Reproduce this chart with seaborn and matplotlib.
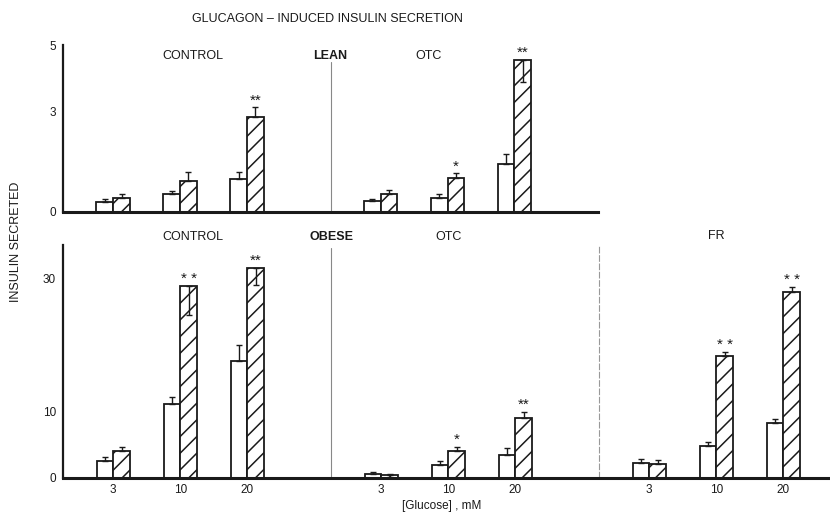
import matplotlib
matplotlib.use("Agg")
import matplotlib.pyplot as plt
import numpy as np
import pandas as pd
import seaborn as sns


GLUCOSE = ["3", "10", "20"]
TREATMENTS = ["basal", "glucagon"]

LEAN_GROUPS = ["CONTROL", "OTC"]
LEAN_BASAL = [0.29, 0.52, 0.98, 0.31, 0.42, 1.44]
LEAN_BASAL_SEM = [0.09, 0.10, 0.21, 0.06, 0.12, 0.29]
LEAN_GLUCAGON = [0.42, 0.93, 2.83, 0.54, 1.00, 4.55]
# negative sem = error bar drawn downwards inside the bar
LEAN_GLUCAGON_SEM = [0.11, 0.26, 0.30, 0.10, 0.15, -0.66]
LEAN_STARS = ["", "", "**", "", "*", "**"]

OBESE_GROUPS = ["CONTROL", "OTC", "FR"]
OBESE_BASAL = [2.56, 11.1, 17.6, 0.55, 2.0, 3.5, 2.3, 4.8, 8.3]
OBESE_BASAL_SEM = [0.55, 1.0, 2.4, 0.3, 0.5, 1.0, 0.56, 0.57, 0.6]
OBESE_GLUCAGON = [4.0, 28.9, 31.6, 0.4, 4.0, 9.0, 2.15, 18.3, 27.9]
OBESE_GLUCAGON_SEM = [0.66, -4.4, -2.6, 0.2, 0.66, 0.9, 0.5, 0.6, 0.8]
OBESE_STARS = ["", "* *", "**", "", "*", "**", "", "* *", "* *"]

INK = "#1a1a1a"


def panel_frame(groups, basal, glucagon):
    rows = []
    for i, group in enumerate(groups):
        for j, glc in enumerate(GLUCOSE):
            k = i * len(GLUCOSE) + j
            pos = i * 4 + j + 0.75
            rows.append({"group": group, "glucose": glc, "pos": pos, "treatment": "basal", "insulin": basal[k]})
            rows.append({"group": group, "glucose": glc, "pos": pos, "treatment": "glucagon", "insulin": glucagon[k]})
    return pd.DataFrame(rows)


def draw_panel(ax, groups, basal, basal_sem, glucagon, glucagon_sem, stars):
    df = panel_frame(groups, basal, glucagon)
    sns.barplot(
        data=df, x="pos", y="insulin", hue="treatment", hue_order=TREATMENTS,
        native_scale=True, width=0.5, palette={"basal": "white", "glucagon": "white"},
        edgecolor=INK, linewidth=1.3, errorbar=None, legend=False, ax=ax,
    )
    for container, sems in zip(ax.containers, [basal_sem, glucagon_sem]):
        patches = sorted(container.patches, key=lambda p: p.get_x())
        xs = np.array([p.get_x() + p.get_width() / 2 for p in patches])
        hs = np.array([p.get_height() for p in patches])
        sems = np.array(sems)
        lo = np.where(sems < 0, -sems, 0)
        hi = np.where(sems > 0, sems, 0)
        ax.errorbar(xs, hs, yerr=[lo, hi], fmt="none", ecolor=INK, elinewidth=1.0, capsize=2, capthick=1.0)
        if container is ax.containers[1]:
            for p in patches:
                p.set_hatch("//")
            for x, h, s, star in zip(xs, hs, sems, stars):
                if star:
                    ax.annotate(star, (x, h + max(s, 0)), xytext=(0, 0), textcoords="offset points",
                                ha="center", va="bottom", fontsize=11, color=INK)


def style_axis(ax, ymax, yticks, ylabels, xmax):
    ax.set_xlim(0, xmax)
    ax.set_ylim(0, ymax)
    ax.set_yticks(yticks)
    ax.set_yticklabels(ylabels)
    ax.tick_params(axis="y", direction="in", length=15, width=1.2, pad=5, labelsize=8.5, colors=INK)
    ax.set_xlabel("")
    ax.set_ylabel("")
    for side in ["top", "right"]:
        ax.spines[side].set_visible(False)
    ax.spines["left"].set_linewidth(1.6)
    ax.spines["bottom"].set_linewidth(2.2)
    ax.spines["left"].set_color(INK)
    ax.spines["bottom"].set_color(INK)
    ax.patch.set_alpha(0)


def main():
    sns.set_theme(style="white")
    plt.rcParams["font.family"] = ["Liberation Sans", "DejaVu Sans"]
    plt.rcParams["hatch.linewidth"] = 1.1
    plt.rcParams["hatch.color"] = INK

    fig = plt.figure(figsize=(8.3, 5.15), dpi=100)
    ax_top = fig.add_axes([63 / 830, 1 - 211.7 / 515, 535 / 830, 166.7 / 515])
    ax_bot = fig.add_axes([63 / 830, 1 - 478 / 515, 767 / 830, 233 / 515])

    draw_panel(ax_top, LEAN_GROUPS, LEAN_BASAL, LEAN_BASAL_SEM, LEAN_GLUCAGON, LEAN_GLUCAGON_SEM, LEAN_STARS)
    style_axis(ax_top, 5, [0, 3, 5], ["0", "3", "5"], 8)
    ax_top.set_xticks([])
    ax_top.axvline(4, ymin=0, ymax=0.9, color="#888888", lw=0.8)
    ax_top.text(1.94, 4.68, LEAN_GROUPS[0], ha="center", va="center", fontsize=9, color=INK)
    ax_top.text(4.0, 4.68, "LEAN", ha="center", va="center", fontsize=9, fontweight="bold", color=INK)
    ax_top.text(5.47, 4.68, LEAN_GROUPS[1], ha="center", va="center", fontsize=9, color=INK)

    draw_panel(ax_bot, OBESE_GROUPS, OBESE_BASAL, OBESE_BASAL_SEM, OBESE_GLUCAGON, OBESE_GLUCAGON_SEM, OBESE_STARS)
    style_axis(ax_bot, 35, [0, 10, 20, 30], ["0", "10", "", "30"], 767 / 67)
    centers = [i * 4 + j + 0.75 for i in range(len(OBESE_GROUPS)) for j in range(len(GLUCOSE))]
    ax_bot.set_xticks(centers)
    ax_bot.set_xticklabels(GLUCOSE * len(OBESE_GROUPS))
    ax_bot.tick_params(axis="x", length=0, pad=4, labelsize=8.5, colors=INK)
    ax_bot.axvline(4, ymin=0, ymax=0.985, color="#888888", lw=0.8)
    ax_bot.axvline(8, ymin=0, ymax=1.0, color="#999999", lw=0.8, ls=(0, (6, 1.5)))
    ax_bot.text(1.94, 36.2, OBESE_GROUPS[0], ha="center", va="center", fontsize=9, color=INK, clip_on=False)
    ax_bot.text(4.0, 36.2, "OBESE", ha="center", va="center", fontsize=9, fontweight="bold", color=INK, clip_on=False)
    ax_bot.text(5.75, 36.2, OBESE_GROUPS[1], ha="center", va="center", fontsize=9, color=INK, clip_on=False)
    ax_bot.text(9.75, 36.4, OBESE_GROUPS[2], ha="center", va="center", fontsize=9, color=INK, clip_on=False)

    fig.text(327 / 830, 1 - 19 / 515, "GLUCAGON \u2013 INDUCED INSULIN SECRETION", ha="center", va="center",
             fontsize=9, color=INK)
    fig.text(16 / 830, 1 - 242 / 515, "INSULIN SECRETED", rotation=90, ha="center", va="center",
             fontsize=9, color=INK)
    fig.text(442 / 830, 1 - 506 / 515, "[Glucose] , mM", ha="center", va="center", fontsize=8.5, color=INK)

    fig.savefig("out.png", dpi=100, facecolor="white")
    plt.close(fig)


if __name__ == "__main__":
    main()
